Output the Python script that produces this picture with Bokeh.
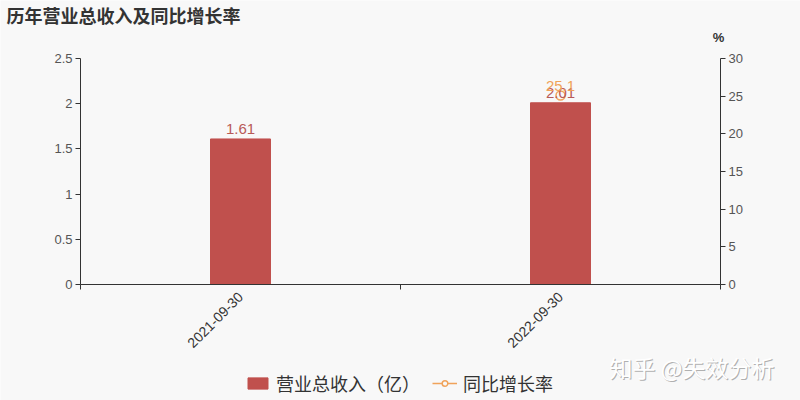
from bokeh.plotting import figure
from bokeh.models import (Range1d, LinearAxis, FixedTicker, ColumnDataSource,
                          Legend, LegendItem, Label)
from bokeh.embed import file_html
from bokeh.resources import INLINE
from bokeh.core.properties import value

categories = ["2021-09-30", "2022-09-30"]
revenue = [1.61, 2.01]
growth = [float("nan"), 25.1]
revenue_labels = ["1.61", "2.01"]
growth_labels = ["", "25.1"]
left_ticks = [0, 0.5, 1, 1.5, 2, 2.5]
right_ticks = [0, 5, 10, 15, 20, 25, 30]
title_text = "历年营业总收入及同比增长率"
series_names = ["营业总收入（亿）", "同比增长率"]
unit_text = "%"
watermark = "知乎 @失效分析"

BG = "#f8f8f8"
BAR = "#c0504d"
LINE = "#f0a35a"
AX = "#333333"
FONT = "Noto Sans CJK SC"
W, H = 800, 400
# plot area inside the canvas (pixels): the frame covers the whole canvas,
# axes are pinned at the edges of the value area
PL, PR, PT, PB = 80, 720, 58, 284
pw, ph = PR - PL, PB - PT

n = len(categories)
xs = [i + 0.5 for i in range(n)]
ux = n / pw
lmax, rmax = left_ticks[-1], right_ticks[-1]
p = figure(width=W, height=H, output_backend="svg", toolbar_location=None,
           x_range=Range1d(-PL * ux, n + (W - PR) * ux),
           y_range=Range1d(-lmax * (H - PB) / ph, lmax * (1 + PT / ph)),
           min_border=0, min_border_left=0, min_border_right=0,
           min_border_top=0, min_border_bottom=0)
p.title.visible = False
p.background_fill_color = BG
p.border_fill_color = BG
p.outline_line_color = None
p.grid.visible = False
p.extra_y_ranges = {"pct": Range1d(-rmax * (H - PB) / ph, rmax * (1 + PT / ph))}

src = ColumnDataSource(dict(x=xs, rev=revenue, g=growth, rl=revenue_labels, gl=growth_labels))
bars = p.vbar(x="x", top="rev", width=0.1875, source=src, color=BAR)
line = p.line(x="x", y="g", source=src, color=LINE, line_width=1.5, y_range_name="pct")
dots = p.scatter(x="x", y="g", source=src, marker="circle", size=9, line_color=LINE,
                 fill_color=BG, line_width=1.5, y_range_name="pct")
p.text(x="x", y="rev", text="rl", source=src, text_align="center", text_baseline="bottom",
       y_offset=-5, text_color="#b85a57", text_font_size="15px",
       text_font=value("Liberation Sans"))
p.text(x="x", y="g", text="gl", source=src, text_align="center", text_baseline="bottom",
       y_offset=-4, text_color=LINE, text_font_size="15px",
       text_font=value("Liberation Sans"), y_range_name="pct")

xa = p.xaxis[0]
xa.fixed_location = 0
xa.bounds = (0, n)
xa.ticker = FixedTicker(ticks=xs, minor_ticks=list(range(n + 1)))
xa.major_label_overrides = {x: c for x, c in zip(xs, categories)}
xa.major_tick_out = 0
xa.major_tick_in = 0
xa.minor_tick_out = 5
xa.minor_tick_in = 0
xa.major_label_orientation = 0.785
xa.major_label_text_font_size = "14px"
xa.major_label_text_color = AX
xa.major_label_text_font = "Liberation Sans"
xa.axis_line_color = AX
xa.minor_tick_line_color = AX

ya = p.yaxis[0]
ya.fixed_location = 0
ra = LinearAxis(y_range_name="pct", fixed_location=n)
p.add_layout(ra, "right")
for ax, ticks in ((ya, left_ticks), (ra, right_ticks)):
    ax.ticker = FixedTicker(ticks=ticks)
    ax.bounds = (ticks[0], ticks[-1])
    ax.minor_tick_line_color = None
    ax.major_tick_out = 5
    ax.major_tick_in = 0
    ax.major_label_text_font_size = "13px"
    ax.major_label_text_color = "#555555"
    ax.major_label_text_font = "Liberation Sans"
    ax.axis_line_color = AX
    ax.major_tick_line_color = AX
    ax.major_label_standoff = 3

# title, unit, watermark (screen px from bottom-left)
p.add_layout(Label(x=6, y=H - 14, x_units="screen", y_units="screen", text=title_text,
                   text_font=FONT, text_font_size="18px", text_font_style="bold",
                   text_color="#333333", text_baseline="middle"))
p.add_layout(Label(x=718, y=H - 37, x_units="screen", y_units="screen", text=unit_text,
                   text_font="Liberation Sans", text_font_size="13px", text_font_style="bold",
                   text_color="#333333", text_baseline="middle", text_align="center"))
for dx, dy, col in [(1, -1, "#b0b0b0"), (0, 0, "#ffffff")]:
    p.add_layout(Label(x=609 + dx, y=H - 366 + dy, x_units="screen", y_units="screen",
                       text=watermark, text_font=FONT, text_font_size="23px",
                       text_color=col, text_baseline="middle"))

legend = Legend(items=[LegendItem(label=series_names[0], renderers=[bars]),
                       LegendItem(label=series_names[1], renderers=[line, dots])],
                orientation="horizontal", location=(245, 4),
                background_fill_alpha=0, border_line_color=None,
                label_text_font=FONT, label_text_font_size="18px", label_text_color="#333333",
                glyph_width=25, glyph_height=14, spacing=12, label_standoff=6,
                padding=0, margin=0)
p.add_layout(legend, "center")

open("out.html", "w").write(file_html(p, INLINE))
